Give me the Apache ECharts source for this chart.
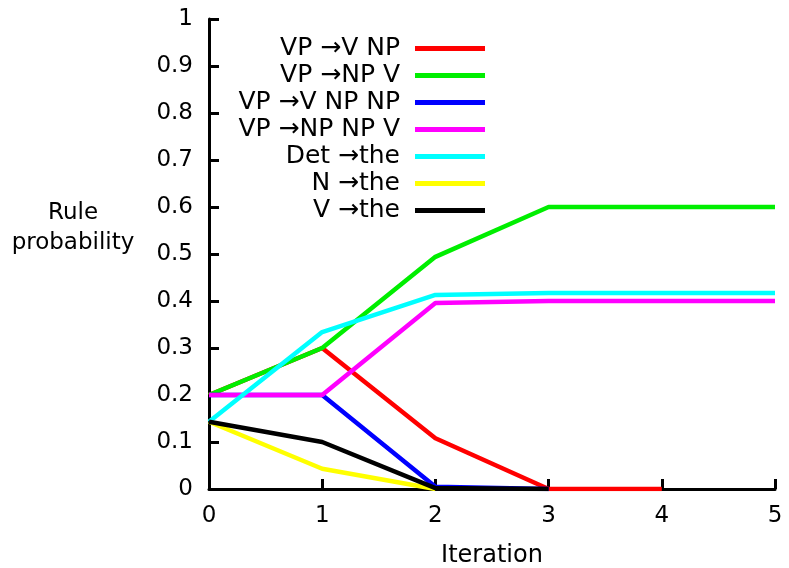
<!DOCTYPE html>
<html>
<head>
<meta charset="utf-8">
<script src="https://cdn.jsdelivr.net/npm/echarts@6/dist/echarts.min.js"></script>
<style>
  html, body { margin: 0; padding: 0; background: #fff; }
  #chart { width: 789px; height: 568px; }
</style>
</head>
<body>
<div id="chart"></div>
<script>
// iterations on the x axis
var iterations = [0, 1, 2, 3, 4, 5];

var seriesNames = [
  "VP \u2192V NP",
  "VP \u2192NP V",
  "VP \u2192V NP NP",
  "VP \u2192NP NP V",
  "Det \u2192the",
  "N \u2192the",
  "V \u2192the",
];
var seriesColors = ["#ff0000", "#00ee00", "#0000ff", "#ff00ff", "#00ffff", "#ffff00", "#000000"];

// probabilities per iteration (null = not drawn)
var vpVNp = [0.2, 0.3, 0.108, 0, 0, null];
var vpNpV = [0.2, 0.3, 0.494, 0.6, 0.6, 0.6];
var vpVNpNp = [0.2, 0.2, 0.005, 0, null, null];
var vpNpNpV = [0.2, 0.2, 0.396, 0.4, 0.4, 0.4];
var detThe = [0.143, 0.334, 0.413, 0.417, 0.417, 0.417];
var nThe = [0.143, 0.043, 0, null, null, null];
var vThe = [0.143, 0.1, 0.002, 0, null, null];

var allValues = [vpVNp, vpNpV, vpVNpNp, vpNpNpV, detThe, nThe, vThe];

var font = "DejaVu Sans";
var chart = echarts.init(document.getElementById("chart"));

chart.setOption({
  animation: false,
  textStyle: { fontFamily: font },
  grid: { left: 209, right: 14, top: 19, bottom: 79, outerBoundsMode: "none", containLabel: false },
  legend: {
    orient: "vertical",
    align: "right",
    right: 299,
    top: 31,
    itemGap: 2,
    itemWidth: 70,
    itemHeight: 5,
    icon: "rect",
    textStyle: { fontFamily: font, fontSize: 25, color: "#000", padding: [0, 10, 0, 0] },
    data: seriesNames,
  },
  xAxis: {
    type: "value",
    min: 0,
    max: 5,
    interval: 1,
    name: "Iteration",
    nameLocation: "middle",
    nameGap: 55,
    nameTextStyle: { fontFamily: font, fontSize: 24, color: "#000" },
    axisLine: { lineStyle: { color: "#000", width: 3 } },
    axisTick: { inside: true, length: 10, lineStyle: { color: "#000", width: 3 } },
    axisLabel: { fontSize: 23, color: "#000", margin: 16 },
    splitLine: { show: false },
  },
  yAxis: {
    type: "value",
    min: 0,
    max: 1,
    interval: 0.1,
    axisLine: { show: true, lineStyle: { color: "#000", width: 3 } },
    axisTick: { show: true, inside: true, length: 10, lineStyle: { color: "#000", width: 3 } },
    axisLabel: { fontSize: 23, color: "#000", margin: 16 },
    splitLine: { show: false },
  },
  graphic: [
    {
      type: "text",
      x: 73,
      y: 228,
      style: {
        text: "Rule\nprobability",
        align: "center",
        verticalAlign: "middle",
        fontFamily: font,
        fontSize: 23,
        lineHeight: 30,
        fill: "#000",
      },
    },
  ],
  series: allValues.map(function (vals, i) {
    return {
      name: seriesNames[i],
      type: "line",
      data: iterations
        .map(function (x, j) { return vals[j] === null ? null : [x, vals[j]]; })
        .filter(function (p) { return p !== null; }),
      showSymbol: false,
      color: seriesColors[i],
      lineStyle: { width: 4.5, color: seriesColors[i] },
      z: 2 + i,
    };
  }),
});
</script>
</body>
</html>
